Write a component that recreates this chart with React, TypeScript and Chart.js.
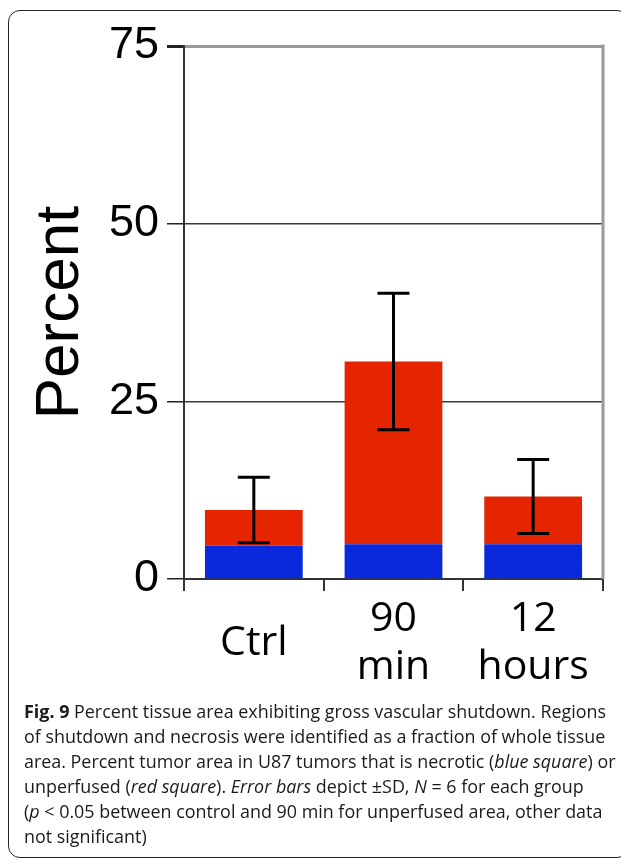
import React, { useEffect, useRef } from "react";
import { Chart, registerables } from "chart.js";

Chart.register(...registerables);

// ---- data ----
const categories: (string | string[])[] = ["Ctrl", ["90", "min"], ["12", "hours"]];
const necroticBlue = [4.7, 4.9, 4.9];
const unperfusedRed = [5.0, 25.7, 6.7];
const sdTotal = [4.6, 9.6, 5.2];
const yTickValues = [0, 25, 50, 75];
const yAxisTitle = "Percent";

const RED = "#E42500";
const BLUE = "#0A28DC";

const errorBarPlugin = {
  id: "errorBars",
  afterDatasetsDraw(chart: any) {
    const meta = chart.getDatasetMeta(1);
    const y = chart.scales.y;
    const ctx = chart.ctx;
    ctx.save();
    ctx.strokeStyle = "#000";
    ctx.lineWidth = 3;
    meta.data.forEach((bar: any, i: number) => {
      const total = necroticBlue[i] + unperfusedRed[i];
      const hi = y.getPixelForValue(total + sdTotal[i]);
      const lo = y.getPixelForValue(total - sdTotal[i]);
      const x = bar.x;
      ctx.beginPath();
      ctx.moveTo(x, hi);
      ctx.lineTo(x, lo);
      ctx.moveTo(x - 16, hi);
      ctx.lineTo(x + 16, hi);
      ctx.moveTo(x - 16, lo);
      ctx.lineTo(x + 16, lo);
      ctx.stroke();
    });
    ctx.restore();
  },
};

const frameRightPlugin = {
  id: "frameRight",
  afterDraw(chart: any) {
    const { ctx, chartArea } = chart;
    ctx.save();
    ctx.strokeStyle = "#9a9a9a";
    ctx.lineWidth = 3;
    ctx.beginPath();
    ctx.moveTo(chartArea.right, chartArea.top - 1.5);
    ctx.lineTo(chartArea.right, chartArea.bottom);
    ctx.stroke();
    ctx.restore();
  },
};

function BarChart() {
  const ref = useRef<HTMLCanvasElement | null>(null);
  useEffect(() => {
    if (!ref.current) return;
    const chart = new Chart(ref.current, {
      type: "bar",
      data: {
        labels: categories,
        datasets: [
          {
            label: "necrotic",
            data: necroticBlue,
            backgroundColor: BLUE,
            borderWidth: 0,
            barPercentage: 0.7,
            categoryPercentage: 1,
          },
          {
            label: "unperfused",
            data: unperfusedRed,
            backgroundColor: RED,
            borderWidth: 0,
            barPercentage: 0.7,
            categoryPercentage: 1,
          },
        ],
      },
      options: {
        animation: false,
        responsive: false,
        maintainAspectRatio: false,
        layout: { padding: { left: 0, right: 23, top: 34, bottom: 12 } },
        plugins: {
          legend: { display: false },
          tooltip: { enabled: false },
          title: { display: false },
        },
        scales: {
          x: {
            stacked: true,
            offset: true,
            grid: {
              display: true,
              drawOnChartArea: false,
              offset: true,
              tickLength: 12,
              color: "#333",
              lineWidth: 2,
            },
            border: { display: true, color: "#333", width: 2 },
            ticks: {
              color: "#000",
              font: { family: "'Open Sans'", size: 41, lineHeight: "48px" },
              padding: 28,
              crossAlign: "center",
              maxRotation: 0,
              autoSkip: false,
            },
            afterFit(scale: any) {
              scale.height = 110;
            },
          },
          y: {
            stacked: true,
            min: 0,
            max: 75,
            afterBuildTicks(scale: any) {
              scale.ticks = yTickValues.map((v) => ({ value: v }));
            },
            grid: {
              color: (c: any) => (c.tick && c.tick.value === 75 ? "#9a9a9a" : "#3a3a3a"),
              lineWidth: (c: any) => (c.tick && c.tick.value === 75 ? 3 : 1.5),
              tickColor: "#222",
              tickLength: 17,
            },
            border: { display: true, color: "#333", width: 2 },
            ticks: {
              color: "#000",
              font: { family: "'Liberation Sans', Arial", size: 45 },
              padding: 8,
            },
            title: {
              display: true,
              text: yAxisTitle,
              color: "#000",
              font: { family: "'Liberation Sans', Arial", size: 62 },
              padding: { top: 15, bottom: 0 },
            },
            afterFit(scale: any) {
              scale.width = 175;
            },
          },
        },
      },
      plugins: [errorBarPlugin, frameRightPlugin],
    } as any);
    return () => chart.destroy();
  }, []);
  return <canvas ref={ref} width={617} height={690} style={{ display: "block", width: 617, height: 690 }} />;
}

const captionStyle: React.CSSProperties = {
  position: "absolute",
  left: 15,
  top: 688,
  fontFamily: "'Open Sans', sans-serif",
  fontSize: 17.9,
  lineHeight: "25px",
  color: "#1a1a1a",
  whiteSpace: "nowrap",
};

export default function App() {
  return (
    <div style={{ paddingTop: 2 }}>
      <div
        style={{
          position: "relative",
          width: 621,
          height: 848,
          boxSizing: "border-box",
          border: "1.5px solid #222",
          borderRadius: 12,
          overflow: "hidden",
          background: "#fff",
        }}
      >
        <div style={{ position: "absolute", left: 0, top: 0 }}>
          <BarChart />
        </div>
        <div style={captionStyle}>
          <div>
            <b>Fig. 9</b> Percent tissue area exhibiting gross vascular shutdown. Regions
          </div>
          <div>of shutdown and necrosis were identified as a fraction of whole tissue</div>
          <div>
            area. Percent tumor area in U87 tumors that is necrotic (<i>blue square</i>) or
          </div>
          <div>
            unperfused (<i>red square</i>). <i>Error bars</i> depict ±SD, <i>N</i> = 6 for each group
          </div>
          <div>
            (<i>p</i> &lt; 0.05 between control and 90 min for unperfused area, other data
          </div>
          <div>not significant)</div>
        </div>
      </div>
    </div>
  );
}
